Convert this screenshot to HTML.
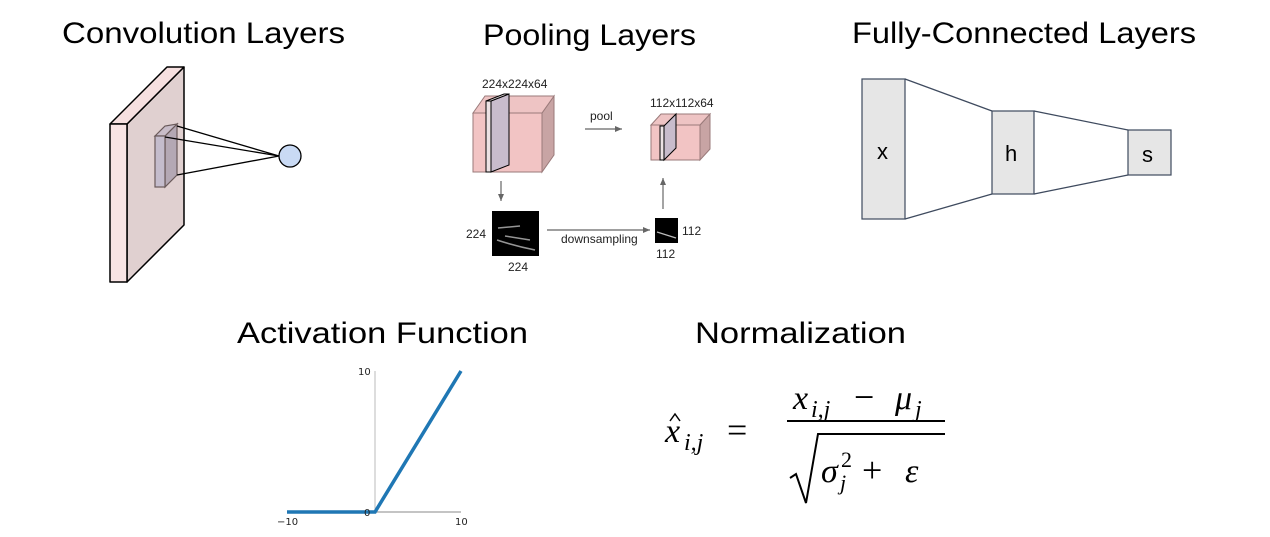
<!DOCTYPE html>
<html><head><meta charset="utf-8"><style>
html,body{margin:0;padding:0;background:#fff;}
svg{display:block;}
</style></head><body>
<svg width="1270" height="537" viewBox="0 0 1270 537" xmlns="http://www.w3.org/2000/svg">
<defs>
<marker id="ar" markerWidth="8" markerHeight="8" refX="7" refY="4" orient="auto" markerUnits="userSpaceOnUse">
<path d="M0,1 L7,4 L0,7 Z" fill="#666"/></marker>
</defs>
<g font-family="Liberation Sans, sans-serif" font-size="30" fill="#000">
<text x="62" y="43" textLength="283" lengthAdjust="spacingAndGlyphs">Convolution Layers</text>
<text x="483" y="45" textLength="213" lengthAdjust="spacingAndGlyphs">Pooling Layers</text>
<text x="852" y="43" textLength="344" lengthAdjust="spacingAndGlyphs">Fully-Connected Layers</text>
<text x="237" y="343" textLength="291" lengthAdjust="spacingAndGlyphs">Activation Function</text>
<text x="695" y="343" textLength="211" lengthAdjust="spacingAndGlyphs">Normalization</text>
</g>

<!-- Conv -->
<g stroke="#000" stroke-width="1.5" stroke-linejoin="round">
<polygon points="127,124 184,67 184,225 127,282" fill="#e0d0d0"/>
<polygon points="110,124 167,67 184,67 127,124" fill="#f6e0e0"/>
<polygon points="110,124 127,124 127,282 110,282" fill="#f8e4e4"/>
</g>
<g stroke="#6a5a5a" stroke-width="1.2">
<polygon points="165,136 177,124 177,175 165,187" fill="#b4a8b4"/>
<polygon points="155,136 165,126 177,124 165,136" fill="#c8bcc8"/>
<rect x="155" y="136" width="10" height="51" fill="#c4bccc"/>
</g>
<g stroke="#000" stroke-width="1.3">
<line x1="177" y1="126" x2="279" y2="156"/>
<line x1="165" y1="137" x2="279" y2="156"/>
<line x1="177" y1="175" x2="279" y2="156"/>
</g>
<circle cx="290" cy="156" r="11" fill="#c9daf4" stroke="#000" stroke-width="1.3"/>

<!-- Pooling -->
<g stroke="#9a7a7a" stroke-width="1">
<polygon points="542,113 554,96 554,155 542,172" fill="#c8a4a4"/>
<polygon points="473,113 485,96 554,96 542,113" fill="#eec4c4"/>
<rect x="473" y="113" width="69" height="59" fill="#f2c4c4"/>
</g>
<g stroke="#000" stroke-width="1">
<polygon points="491,101 509,94 509,165 491,172" fill="#c8bccc"/>
<polygon points="486,101 504,94 509,94 491,101" fill="#e8dde0"/>
<rect x="486" y="101" width="5" height="71" fill="#ece2e4"/>
</g>
<g stroke="#9a7a7a" stroke-width="1">
<polygon points="700,125 710,114 710,149 700,160" fill="#c8a4a4"/>
<polygon points="651,125 661,114 710,114 700,125" fill="#eec4c4"/>
<rect x="651" y="125" width="49" height="35" fill="#f2c4c4"/>
</g>
<g stroke="#000" stroke-width="1">
<polygon points="664,126 676,114 676,148 664,160" fill="#c8bccc"/>
<rect x="660" y="126" width="4" height="34" fill="#ece2e4"/>
</g>
<g font-family="Liberation Sans, sans-serif" font-size="12" fill="#222">
<text x="482" y="88">224x224x64</text>
<text x="650" y="107">112x112x64</text>
<text x="590" y="120">pool</text>
<text x="561" y="243">downsampling</text>
<text x="466" y="238">224</text>
<text x="508" y="271">224</text>
<text x="682" y="235">112</text>
<text x="656" y="258">112</text>
</g>
<g stroke="#666" stroke-width="1.2" fill="none">
<line x1="585" y1="129" x2="622" y2="129" marker-end="url(#ar)"/>
<line x1="501" y1="181" x2="501" y2="201" marker-end="url(#ar)"/>
<line x1="547" y1="230" x2="650" y2="230" marker-end="url(#ar)"/>
<line x1="663" y1="209" x2="663" y2="178" marker-end="url(#ar)"/>
</g>
<rect x="492" y="211" width="47" height="45" fill="#000"/>
<g stroke="#bbb" stroke-width="1.5" fill="none" opacity="0.8">
<path d="M497,240 Q515,246 535,250"/>
<path d="M498,228 L520,226"/>
<path d="M505,236 L530,240"/>
</g>
<rect x="655" y="218" width="23" height="25" fill="#000"/>
<path d="M657,232 L676,238" stroke="#bbb" stroke-width="1.2"/>

<!-- FC -->
<g stroke="#3e4a5e" stroke-width="1.2">
<line x1="905" y1="79" x2="992" y2="111"/>
<line x1="905" y1="219" x2="992" y2="194"/>
<line x1="1034" y1="111" x2="1128" y2="130"/>
<line x1="1034" y1="194" x2="1128" y2="175"/>
<rect x="862" y="79" width="43" height="140" fill="#e6e6e6"/>
<rect x="992" y="111" width="42" height="83" fill="#e6e6e6"/>
<rect x="1128" y="130" width="43" height="45" fill="#e6e6e6"/>
</g>
<g font-family="Liberation Sans, sans-serif" font-size="22" fill="#000">
<text x="877" y="159">x</text>
<text x="1005" y="161">h</text>
<text x="1142" y="162">s</text>
</g>

<!-- Activation -->
<line x1="375" y1="371" x2="375" y2="512" stroke="#bbb" stroke-width="1"/>
<line x1="287" y1="512" x2="461" y2="512" stroke="#888" stroke-width="1"/>
<polyline points="287,512 375,512 461,371" fill="none" stroke="#1f77b4" stroke-width="3.5"/>
<g font-family="DejaVu Sans, sans-serif" font-size="10" fill="#222">
<text x="358" y="375">10</text>
<text x="364" y="516">0</text>
<text x="277" y="525">−10</text>
<text x="455" y="525">10</text>
</g>

<!-- Normalization -->
<g font-family="Liberation Serif, serif" fill="#000">
<text x="665" y="442" font-size="34" font-style="italic">x</text>
<text x="684" y="450" font-size="24" font-style="italic">i,j</text>
<text x="727" y="442" font-size="36">=</text>
<text x="793" y="409" font-size="34" font-style="italic">x</text>
<text x="811" y="417" font-size="24" font-style="italic">i,j</text>
<text x="854" y="409" font-size="36">−</text>
<text x="895" y="409" font-size="34" font-style="italic">μ</text>
<text x="915" y="417" font-size="24" font-style="italic">j</text>
<text x="821" y="482" font-size="34" font-style="italic">σ</text>
<text x="841" y="467" font-size="22">2</text>
<text x="840" y="490" font-size="22" font-style="italic">j</text>
<text x="862" y="482" font-size="36">+</text>
<text x="905" y="482" font-size="34" font-style="italic">ε</text>
</g>
<path d="M670,421 L675,414 L680,421" fill="none" stroke="#000" stroke-width="1.5"/>
<line x1="787" y1="421" x2="945" y2="421" stroke="#000" stroke-width="2"/>
<path d="M790,478 L796,474 L806,503 L818,434 L945,434" fill="none" stroke="#000" stroke-width="2"/>
</svg>
</body></html>
